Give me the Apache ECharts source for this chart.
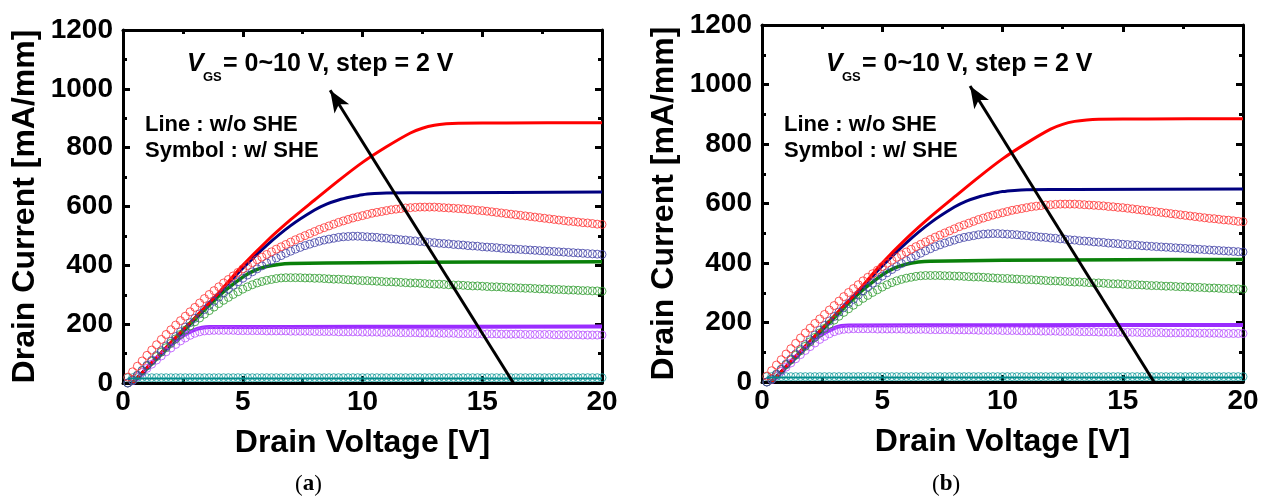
<!DOCTYPE html>
<html>
<head>
<meta charset="utf-8">
<title>Drain current vs drain voltage</title>
<script src="https://cdn.jsdelivr.net/npm/echarts@6/dist/echarts.min.js"></script>
<style>
  html, body { margin: 0; padding: 0; background: #fff; }
  #main { width: 1265px; height: 498px; }
</style>
</head>
<body>
<div id="main"></div>
<script>
// drain voltage grid of the measured symbols (w/ SHE)
var vds = [
  0.2, 0.4, 0.6, 0.8, 1.0, 1.2, 1.4, 1.6, 1.8, 2.0,
  2.2, 2.4, 2.6, 2.8, 3.0, 3.2, 3.4, 3.6, 3.8, 4.0,
  4.2, 4.4, 4.6, 4.8, 5.0, 5.2, 5.4, 5.6, 5.8, 6.0,
  6.2, 6.4, 6.6, 6.8, 7.0, 7.2, 7.4, 7.6, 7.8, 8.0,
  8.2, 8.4, 8.6, 8.8, 9.0, 9.2, 9.4, 9.6, 9.8, 10.0,
  10.2, 10.4, 10.6, 10.8, 11.0, 11.2, 11.4, 11.6, 11.8, 12.0,
  12.2, 12.4, 12.6, 12.8, 13.0, 13.2, 13.4, 13.6, 13.8, 14.0,
  14.2, 14.4, 14.6, 14.8, 15.0, 15.2, 15.4, 15.6, 15.8, 16.0,
  16.2, 16.4, 16.6, 16.8, 17.0, 17.2, 17.4, 17.6, 17.8, 18.0,
  18.2, 18.4, 18.6, 18.8, 19.0, 19.2, 19.4, 19.6, 19.8, 20.0
];

// symbols : w/ SHE  (mA/mm)
var she10 = [
  20, 38, 57, 75, 94, 112, 130, 148, 165, 181,
  197, 212, 227, 242, 257, 272, 287, 301, 314, 327,
  340, 352, 364, 376, 388, 399, 409, 419, 428, 437,
  446, 455, 463, 471, 479, 487, 494, 501, 508, 515,
  522, 528, 534, 540, 546, 551, 556, 561, 565, 569,
  573, 577, 580, 583, 586, 589, 591, 593, 595, 596,
  597, 598, 598, 598, 598, 597, 596, 595, 594, 593,
  592, 590, 589, 587, 586, 584, 582, 580, 578, 576,
  574, 572, 570, 568, 566, 564, 562, 560, 558, 556,
  554, 552, 550, 549, 547, 545, 544, 542, 540, 539
];
var she8 = [
  0, 10, 26, 43, 60, 77, 94, 110, 126, 142,
  158, 174, 190, 205, 220, 235, 250, 264, 278, 292,
  306, 319, 332, 344, 356, 367, 378, 388, 398, 408,
  417, 425, 433, 441, 448, 455, 461, 467, 472, 477,
  482, 486, 489, 492, 495, 497, 498, 499, 499, 498,
  497, 496, 495, 493, 492, 490, 489, 487, 486, 484,
  483, 481, 480, 478, 477, 475, 474, 473, 471, 470,
  469, 467, 466, 465, 463, 462, 461, 460, 458, 457,
  456, 455, 454, 453, 452, 451, 450, 449, 448, 447,
  446, 445, 444, 443, 442, 441, 440, 439, 438, 437
];
var she6 = [
  0, 10, 26, 42, 58, 74, 90, 105, 120, 135,
  150, 165, 180, 194, 208, 221, 234, 246, 258, 270,
  281, 291, 301, 310, 319, 327, 334, 340, 345, 349,
  352, 355, 357, 358, 358, 358, 358, 357, 357, 356,
  356, 355, 354, 353, 353, 352, 351, 350, 349, 348,
  348, 347, 346, 345, 344, 344, 343, 342, 341, 340,
  340, 339, 338, 337, 336, 336, 335, 334, 333, 333,
  332, 331, 330, 330, 329, 328, 327, 327, 326, 325,
  324, 324, 323, 322, 322, 321, 320, 320, 319, 318,
  318, 317, 316, 316, 315, 314, 314, 313, 313, 312
];
var she4 = [
  0, 8, 22, 36, 50, 64, 78, 92, 106, 119,
  131, 143, 153, 162, 169, 174, 177, 178, 179, 179,
  179, 179, 179, 178, 178, 178, 178, 178, 178, 177,
  177, 177, 177, 177, 176, 176, 176, 176, 176, 175,
  175, 175, 175, 175, 174, 174, 174, 174, 174, 173,
  173, 173, 173, 172, 172, 172, 172, 171, 171, 171,
  171, 170, 170, 170, 170, 169, 169, 169, 169, 168,
  168, 168, 168, 167, 167, 167, 167, 167, 166, 166,
  166, 166, 166, 165, 165, 165, 165, 165, 165, 164,
  164, 164, 164, 164, 164, 163, 163, 163, 163, 163
];
var she0 = [
  18, 18, 18, 18, 18, 18, 18, 18, 18, 18,
  18, 18, 18, 18, 18, 18, 18, 18, 18, 18,
  18, 18, 18, 18, 18, 18, 18, 18, 18, 18,
  18, 18, 18, 18, 18, 18, 18, 18, 18, 18,
  18, 18, 18, 18, 18, 18, 18, 18, 18, 18,
  18, 18, 18, 18, 18, 18, 18, 18, 18, 18,
  18, 18, 18, 18, 18, 18, 18, 18, 18, 18,
  18, 18, 18, 18, 18, 18, 18, 18, 18, 18,
  18, 18, 18, 18, 18, 18, 18, 18, 18, 18,
  18, 18, 18, 18, 18, 18, 18, 18, 18, 18
];

// lines : w/o SHE  [Vds, Id]
var line10 = [[0.4, 0], [1, 52], [2, 138], [3, 222], [4, 307], [5, 400], [6, 482], [7, 555],
  [8, 622], [9, 688], [10, 750], [11, 803], [12, 850], [12.5, 866], [13, 876], [13.5, 881],
  [14, 883], [16, 884], [20, 885]];
var line8 = [[0.4, 0], [1, 52], [2, 137], [3, 221], [4, 305], [5, 390], [6, 468], [7, 535],
  [8, 588], [8.5, 608], [9, 622], [9.5, 632], [10, 640], [10.5, 644], [11, 646], [13, 647], [20, 649]];
var line6 = [[0.4, 0], [1, 50], [2, 133], [3, 216], [4, 296], [5, 360], [5.5, 383], [6, 396],
  [6.5, 403], [7, 406], [10, 409], [15, 411], [20, 412]];
var line4 = [[0.4, 0], [1, 50], [1.5, 90], [2, 128], [2.5, 160], [3, 181], [3.3, 188], [3.6, 190],
  [10, 191], [20, 192]];
var line0 = [[0.2, 15], [20, 15]];

// VGS arrow (tail, head) in data units
var arrowTail = [16.3, 0];
var arrowHead = [8.65, 995];

var xTicks = { min: 0, max: 20, interval: 5 };
var yTicks = { min: 0, max: 1200, interval: 200 };

var panels = [
  { left: 123, top: 30, width: 479, height: 353, tag: 'a', tagX: 311 },
  { left: 762, top: 25, width: 481, height: 357, tag: 'b', tagX: 948 }
];

var FONT = '"Liberation Sans", Arial, sans-serif';

function pairs(ys) {
  return ys.map(function (y, i) { return [vds[i], y]; });
}

var grids = [], xAxes = [], yAxes = [], series = [], graphics = [];

function axisBase(pos, labels) {
  return {
    type: 'value',
    position: pos,
    axisLine: { show: true, onZero: false, lineStyle: { color: '#000', width: 3 } },
    axisTick: { show: true, inside: true, length: 7, lineStyle: { color: '#000', width: 3 } },
    minorTick: { show: true, splitNumber: 2, length: 4, lineStyle: { color: '#000', width: 3 } },
    splitLine: { show: false },
    axisLabel: labels ? {
      show: true, color: '#000', fontFamily: FONT, fontWeight: 'bold', fontSize: 28,
      showMinLabel: true, showMaxLabel: true,
      formatter: function (v) { return String(v); }
    } : { show: false }
  };
}

panels.forEach(function (p, k) {
  grids.push({ left: p.left, top: p.top, width: p.width, height: p.height, containLabel: false });

  var xb = axisBase('bottom', true);
  Object.assign(xb, xTicks, { gridIndex: k, name: 'Drain Voltage [V]', nameLocation: 'middle', nameGap: 44,
    nameTextStyle: { color: '#000', fontFamily: FONT, fontWeight: 'bold', fontSize: 32 } });
  xb.axisLabel.margin = 5;
  var xt = axisBase('top', false);
  Object.assign(xt, xTicks, { gridIndex: k });
  xAxes.push(xb, xt);

  var yl = axisBase('left', true);
  Object.assign(yl, yTicks, { gridIndex: k, name: 'Drain Current [mA/mm]', nameLocation: 'middle', nameGap: 82,
    nameTextStyle: { color: '#000', fontFamily: FONT, fontWeight: 'bold', fontSize: 32 } });
  yl.axisLabel.margin = 10;
  var yr = axisBase('right', false);
  Object.assign(yr, yTicks, { gridIndex: k });
  yAxes.push(yl, yr);

  var xi = k * 2, yi = k * 2;

  function lineS(data, color, w) {
    return { type: 'line', xAxisIndex: xi, yAxisIndex: yi, data: data, smooth: 0.3,
      showSymbol: false, symbol: 'none', lineStyle: { color: color, width: w }, z: 2, silent: true };
  }
  function symS(ys, color) {
    return { type: 'scatter', xAxisIndex: xi, yAxisIndex: yi, data: pairs(ys), symbol: 'circle',
      symbolSize: 8, itemStyle: { color: 'rgba(255,255,255,0)', borderColor: color, borderWidth: 1 },
      z: 3, silent: true };
  }

  var l0 = lineS(line0, '#008b8b', 2);
  l0.markLine = {
    silent: true, symbol: ['none', 'arrow'], symbolSize: [13, 22], label: { show: false },
    lineStyle: { color: '#000', width: 3, type: 'solid' },
    data: [[{ coord: arrowTail }, { coord: arrowHead }]]
  };
  l0.z = 4;

  series.push(
    l0,
    lineS(line4, '#9a2cff', 4),
    lineS(line6, '#0a800a', 3.5),
    lineS(line8, '#00007f', 3),
    lineS(line10, '#ff0000', 3),
    symS(she0, '#159c9c'),
    symS(she4, '#b64cff'),
    symS(she6, '#2a9a2a'),
    symS(she8, '#3c3ca4'),
    symS(she10, '#ff3030')
  );

  var tx = p.left + 64;
  graphics.push(
    { type: 'text', left: tx, top: 52, style: { text: 'V', font: 'italic bold 25px ' + FONT, fill: '#000' } },
    { type: 'text', left: tx + 16, top: 71, style: { text: 'GS', font: 'bold 13px ' + FONT, fill: '#000' } },
    { type: 'text', left: tx + 36, top: 52, style: { text: '= 0~10 V, step = 2 V', font: 'bold 25px ' + FONT, fill: '#000' } },
    { type: 'text', left: p.left + 22, top: 114, style: { text: 'Line : w/o SHE', font: 'bold 22px ' + FONT, fill: '#000' } },
    { type: 'text', left: p.left + 22, top: 140, style: { text: 'Symbol : w/ SHE', font: 'bold 22px ' + FONT, fill: '#000' } },
    { type: 'text', left: p.tagX - 16, top: 473, style: {
      text: '{p|(}{t|' + p.tag + '}{p|)}',
      rich: {
        p: { fontFamily: '"Liberation Serif", "DejaVu Serif", serif', fontSize: 23, fill: '#000' },
        t: { fontFamily: '"Liberation Serif", "DejaVu Serif", serif', fontSize: 23, fontWeight: 'bold', fill: '#000' }
      } } }
  );
});

var chart = echarts.init(document.getElementById('main'), null, { renderer: 'canvas' });
chart.setOption({
  backgroundColor: '#fff',
  animation: false,
  grid: grids,
  xAxis: xAxes,
  yAxis: yAxes,
  series: series,
  graphic: graphics
});
</script>
</body>
</html>
